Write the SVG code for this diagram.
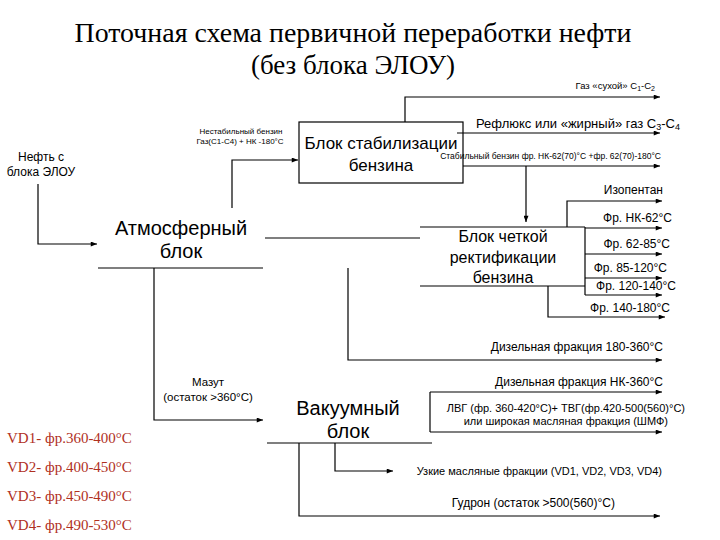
<svg xmlns="http://www.w3.org/2000/svg" width="720" height="540" viewBox="0 0 720 540">
<style>
.t{font-family:"Liberation Serif","DejaVu Serif",serif;fill:#000}
.s{font-family:"Liberation Sans",Arial,sans-serif;fill:#000}
.ln{fill:none;stroke:#000;stroke-width:1.2}
.vd{font-family:"Liberation Serif","DejaVu Serif",serif;fill:#b0301e;font-size:15px}
</style>
<defs>
<marker id="a" viewBox="0 0 10 8" refX="10" refY="4" markerWidth="7" markerHeight="5" markerUnits="userSpaceOnUse" orient="auto">
<path d="M0,0L10,4L0,8z" fill="#000"/>
</marker>
</defs>
<rect width="720" height="540" fill="#fff"/>
<g id="title" style="font-family:'Liberation Serif',serif">
<text class="t" x="353" y="42" style="font-family:'Liberation Serif',serif;font-size:27px" text-anchor="middle" textLength="557" lengthAdjust="spacingAndGlyphs">Поточная схема первичной переработки нефти</text>
<text class="t" x="353" y="74" style="font-family:'Liberation Serif',serif;font-size:27px" text-anchor="middle">(без блока ЭЛОУ)</text>
</g>

<g id="stab">
<rect x="299" y="122" width="164" height="61" fill="#fff" stroke="#000" stroke-width="1.2"/>
<text class="s" x="381" y="149" font-size="17" text-anchor="middle">Блок стабилизации</text>
<text class="s" x="381" y="171" font-size="17" text-anchor="middle">бензина</text>
</g>
<g id="atm">
<text class="s" x="181" y="235" font-size="20" text-anchor="middle">Атмосферный</text>
<text class="s" x="181" y="258" font-size="20" text-anchor="middle">блок</text>
<line class="ln" x1="98" y1="268" x2="263" y2="268" stroke="#222"/>
</g>
<g id="rect">
<line class="ln" x1="420" y1="227" x2="585" y2="227"/>
<line class="ln" x1="420" y1="286" x2="585" y2="286"/>
<text class="s" x="503" y="242" font-size="16" text-anchor="middle">Блок четкой</text>
<text class="s" x="503" y="263" font-size="16" text-anchor="middle">ректификации</text>
<text class="s" x="503" y="283" font-size="16" text-anchor="middle">бензина</text>
</g>
<g id="vac">
<text class="s" x="348" y="415" font-size="20" text-anchor="middle">Вакуумный</text>
<text class="s" x="348" y="438" font-size="20" text-anchor="middle">блок</text>
<line class="ln" x1="267" y1="443" x2="432" y2="443" stroke="#333"/>
</g>

<g id="connectors">
<path class="ln" d="M38,184V244H97" marker-end="url(#a)"/>
<path class="ln" d="M232,208V160H298" marker-end="url(#a)"/>
<path class="ln" d="M405,122V97H660" marker-end="url(#a)"/>
<path class="ln" d="M457,133H660" marker-end="url(#a)"/>
<path class="ln" d="M463,166H660" marker-end="url(#a)"/>
<path class="ln" d="M526,166V222" marker-end="url(#a)"/>
<path class="ln" d="M265,238H420"/>
<path class="ln" d="M567,227V201H662" marker-end="url(#a)"/>
<path class="ln" d="M585,227V295"/>
<path class="ln" d="M585,228H662" marker-end="url(#a)"/>
<path class="ln" d="M585,254H662" marker-end="url(#a)"/>
<path class="ln" d="M585,278H662" marker-end="url(#a)"/>
<path class="ln" d="M585,295H662" marker-end="url(#a)"/>
<path class="ln" d="M548,286V317H665" marker-end="url(#a)"/>
<path class="ln" d="M348,268V360H662" marker-end="url(#a)"/>
<path class="ln" d="M154,268V420H263" marker-end="url(#a)"/>
<path class="ln" d="M430,392V432"/>
<path class="ln" d="M430,392H662" marker-end="url(#a)"/>
<path class="ln" d="M430,432H662" marker-end="url(#a)"/>
<path class="ln" d="M335,443V471H393" marker-end="url(#a)"/>
<path class="ln" d="M299,443V516H660" marker-end="url(#a)"/>
</g>

<g id="labels">
<text class="s" x="41" y="161" font-size="12" text-anchor="middle">Нефть с</text>
<text class="s" x="41" y="176" font-size="12" text-anchor="middle">блока ЭЛОУ</text>
<text class="s" x="241" y="134" font-size="8" text-anchor="middle">Нестабильный бензин</text>
<text class="s" x="240" y="144" font-size="8" text-anchor="middle">Газ(С1-С4) + НК -180°С</text>
<text class="s" x="655" y="89" font-size="9.5" text-anchor="end">Газ «сухой» С<tspan font-size="7" dy="2">1</tspan><tspan dy="-2">-С</tspan><tspan font-size="7" dy="2">2</tspan></text>
<text class="s" x="680" y="128" font-size="13" text-anchor="end">Рефлюкс или «жирный» газ С<tspan font-size="9" dy="2">3</tspan><tspan dy="-2">-С</tspan><tspan font-size="9" dy="2">4</tspan></text>
<text class="s" x="661" y="159" font-size="8.5" text-anchor="end">Стабильный бензин фр. НК-62(70)°С +фр. 62(70)-180°С</text>
<text class="s" x="663" y="194" font-size="12" text-anchor="end">Изопентан</text>
<text class="s" x="672" y="222" font-size="12" text-anchor="end">Фр. НК-62°С</text>
<text class="s" x="670" y="248" font-size="12" text-anchor="end">Фр. 62-85°С</text>
<text class="s" x="667" y="272" font-size="12" text-anchor="end">Фр. 85-120°С</text>
<text class="s" x="676" y="290" font-size="12" text-anchor="end">Фр. 120-140°С</text>
<text class="s" x="670" y="312" font-size="12" text-anchor="end">Фр. 140-180°С</text>
<text class="s" x="663" y="351" font-size="12" text-anchor="end">Дизельная фракция 180-360°С</text>
<text class="s" x="663" y="386" font-size="12" text-anchor="end">Дизельная фракция НК-360°С</text>
<text class="s" x="208" y="386" font-size="11.5" text-anchor="middle">Мазут</text>
<text class="s" x="208" y="401" font-size="11.5" text-anchor="middle">(остаток &gt;360°С)</text>
<text class="s" x="685" y="412" font-size="11" text-anchor="end">ЛВГ (фр. 360-420°С)+ ТВГ(фр.420-500(560)°С)</text>
<text class="s" x="668" y="425" font-size="11" text-anchor="end">или широкая масляная фракция (ШМФ)</text>
<text class="s" x="662" y="475" font-size="11" text-anchor="end">Узкие масляные фракции (VD1, VD2, VD3, VD4)</text>
<text class="s" x="615" y="507" font-size="12" text-anchor="end">Гудрон (остаток &gt;500(560)°С)</text>
<text class="vd" x="7" y="443">VD1- фр.360-400°С</text>
<text class="vd" x="7" y="472">VD2- фр.400-450°С</text>
<text class="vd" x="7" y="501">VD3- фр.450-490°С</text>
<text class="vd" x="7" y="530">VD4- фр.490-530°С</text>
</g>
</svg>
